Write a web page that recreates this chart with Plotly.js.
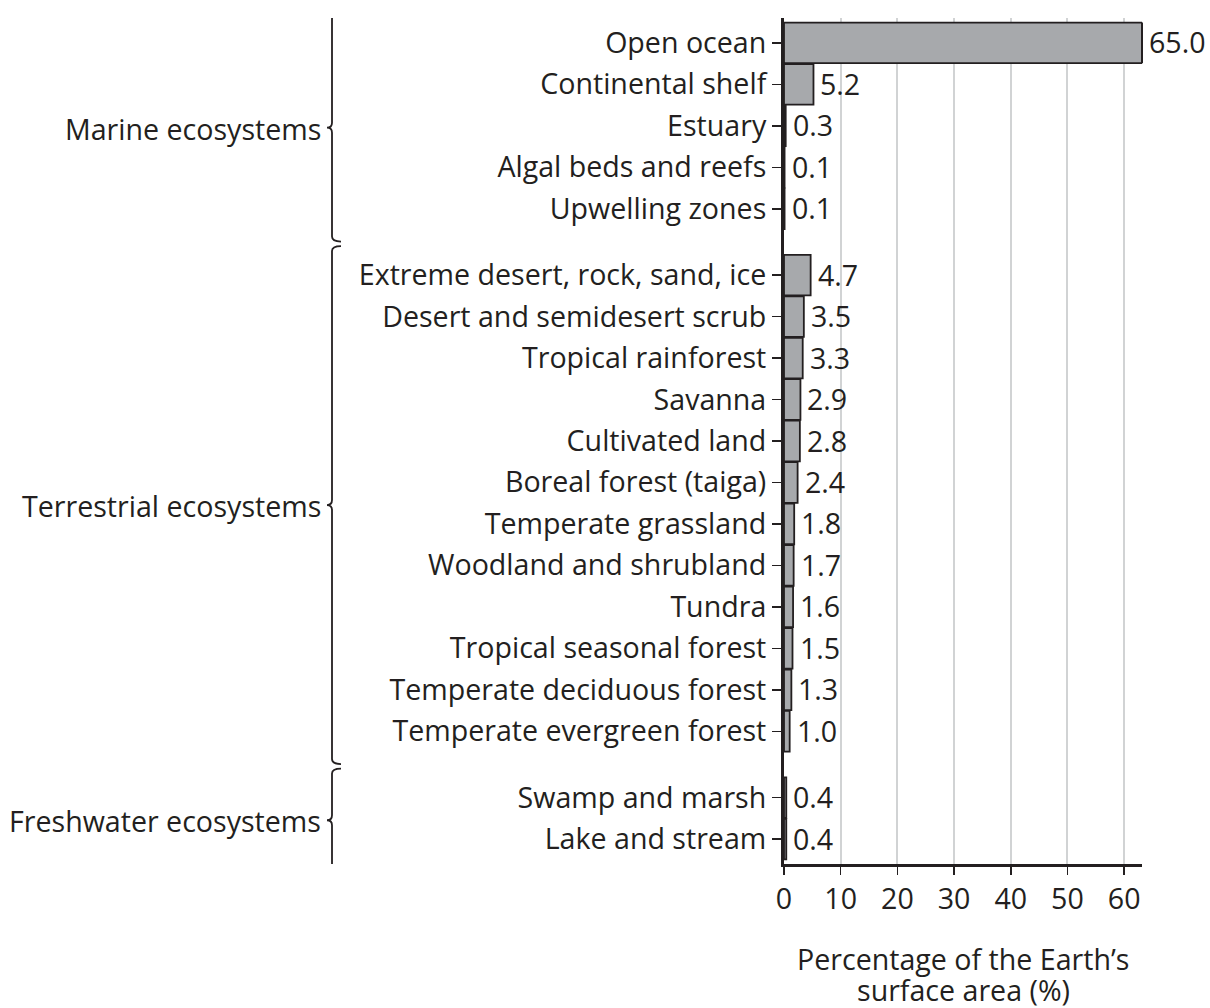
<!DOCTYPE html>
<html>
<head>
<meta charset="utf-8">
<script src="https://cdn.plot.ly/plotly-3.0.1.min.js"></script>
<style>html,body{margin:0;padding:0;background:#fff;}#chart{width:1210px;height:1008px;}</style>
</head>
<body>
<div id="chart"></div>
<script>
// ---- data ----
const groupNames = ["Marine ecosystems", "Terrestrial ecosystems", "Freshwater ecosystems"];
const marineCats = ["Open ocean", "Continental shelf", "Estuary", "Algal beds and reefs", "Upwelling zones"];
const marineVals = [65.0, 5.2, 0.3, 0.1, 0.1];
const terrestrialCats = ["Extreme desert, rock, sand, ice", "Desert and semidesert scrub", "Tropical rainforest",
  "Savanna", "Cultivated land", "Boreal forest (taiga)", "Temperate grassland", "Woodland and shrubland",
  "Tundra", "Tropical seasonal forest", "Temperate deciduous forest", "Temperate evergreen forest"];
const terrestrialVals = [4.7, 3.5, 3.3, 2.9, 2.8, 2.4, 1.8, 1.7, 1.6, 1.5, 1.3, 1.0];
const freshwaterCats = ["Swamp and marsh", "Lake and stream"];
const freshwaterVals = [0.4, 0.4];
const xTickVals = [0, 10, 20, 30, 40, 50, 60];
const xTitleLines = ["Percentage of the Earth’s", "surface area (%)"];

// ---- layout helpers ----
const FONT = "Open Sans, Liberation Sans, sans-serif";
const INK = "#231f20";
const FS = 28.6;
const GROUP_GAP = 0.6;
const groups = [[marineCats, marineVals], [terrestrialCats, terrestrialVals], [freshwaterCats, freshwaterVals]];

const cats = [], vals = [], pos = [], groupSpans = [];
let idx = 0;
groups.forEach((g, gi) => {
  const start = idx + gi * GROUP_GAP;
  g[0].forEach((c, i) => {
    cats.push(c); vals.push(g[1][i]); pos.push(idx + gi * GROUP_GAP); idx++;
  });
  const end = idx - 1 + gi * GROUP_GAP;
  groupSpans.push([start, end]);
});

const xMax = 63.15;
const yMin = -0.6, yMax = pos[pos.length - 1] + 0.6;

const bars = {
  type: "bar",
  orientation: "h",
  x: vals,
  y: pos,
  marker: { color: "#a7a9ac", line: { color: INK, width: 1.8 } },
  hoverinfo: "skip"
};

// curly braces (pixel x relative to plot left edge, y in data units)
function bracePath(y0, y1) {
  const xv = -452, xe = -443, xt = -457;
  const ym = (y0 + y1) / 2;
  const r = 0.12;
  return `M ${xe},${y0} Q ${xv},${y0} ${xv},${y0 + r} L ${xv},${ym - r} Q ${xv},${ym} ${xt},${ym} ` +
         `Q ${xv},${ym} ${xv},${ym + r} L ${xv},${y1 - r} Q ${xv},${y1} ${xe},${y1}`;
}

const shapes = groupSpans.map(s => ({
  type: "path",
  xref: "paper", xsizemode: "pixel", xanchor: 0,
  yref: "y",
  path: bracePath(s[0] - 0.7, s[1] + 0.79),
  line: { color: INK, width: 1.8 }
}));
// closing edge of the bar that runs past the axis end
vals.forEach((v, i) => {
  if (v > xMax) {
    shapes.push({
      type: "line", xref: "paper", x0: 1, x1: 1, yref: "y",
      y0: pos[i] - 0.49, y1: pos[i] + 0.49,
      line: { color: INK, width: 2 }
    });
  }
});

const annotations = groupSpans.map((s, gi) => ({
  xref: "paper", x: 0, xanchor: "right", xshift: -461,
  yref: "y", y: (s[0] + s[1]) / 2 + 0.06, yanchor: "middle",
  text: groupNames[gi], showarrow: false,
  font: { family: FONT, size: FS, color: INK }
}));
// value labels placed just past the visible end of each bar
vals.forEach((v, i) => {
  annotations.push({
    xref: "x", x: Math.min(v, xMax), xanchor: "left", xshift: 5,
    yref: "y", y: pos[i], yanchor: "middle", yshift: 1,
    text: v.toFixed(1), showarrow: false,
    font: { family: FONT, size: FS, color: INK }
  });
});
// x-axis title, one centred line at a time below the tick labels
xTitleLines.forEach((line, li) => {
  annotations.push({
    xref: "paper", x: 0.5, xanchor: "center",
    yref: "paper", y: 0, yanchor: "middle", yshift: -94 - 31 * li,
    text: line, showarrow: false,
    font: { family: FONT, size: FS, color: INK }
  });
});

const layout = {
  width: 1210, height: 1008,
  margin: { l: 784, r: 68, t: 18, b: 144 },
  paper_bgcolor: "#fff", plot_bgcolor: "#fff",
  showlegend: false,
  bargap: 0.02,
  font: { family: FONT, size: FS, color: INK },
  xaxis: {
    range: [0, xMax],
    tickvals: xTickVals,
    ticks: "outside", ticklen: 8, tickwidth: 1.5, tickcolor: INK,
    showline: true, linewidth: 3, linecolor: INK,
    showgrid: true, gridcolor: "#d1d3d4", gridwidth: 2,
    zeroline: false,
    tickfont: { family: FONT, size: FS, color: INK },
    fixedrange: true
  },
  yaxis: {
    range: [yMax, yMin],
    tickvals: pos, ticktext: cats,
    ticks: "outside", ticklen: 9, tickwidth: 1.5, tickcolor: INK,
    showline: true, linewidth: 3, linecolor: INK,
    showgrid: false, zeroline: false,
    tickfont: { family: FONT, size: FS, color: INK },
    fixedrange: true
  },
  shapes: shapes,
  annotations: annotations
};

Plotly.newPlot("chart", [bars], layout, { displayModeBar: false, staticPlot: true });
</script>
</body>
</html>
